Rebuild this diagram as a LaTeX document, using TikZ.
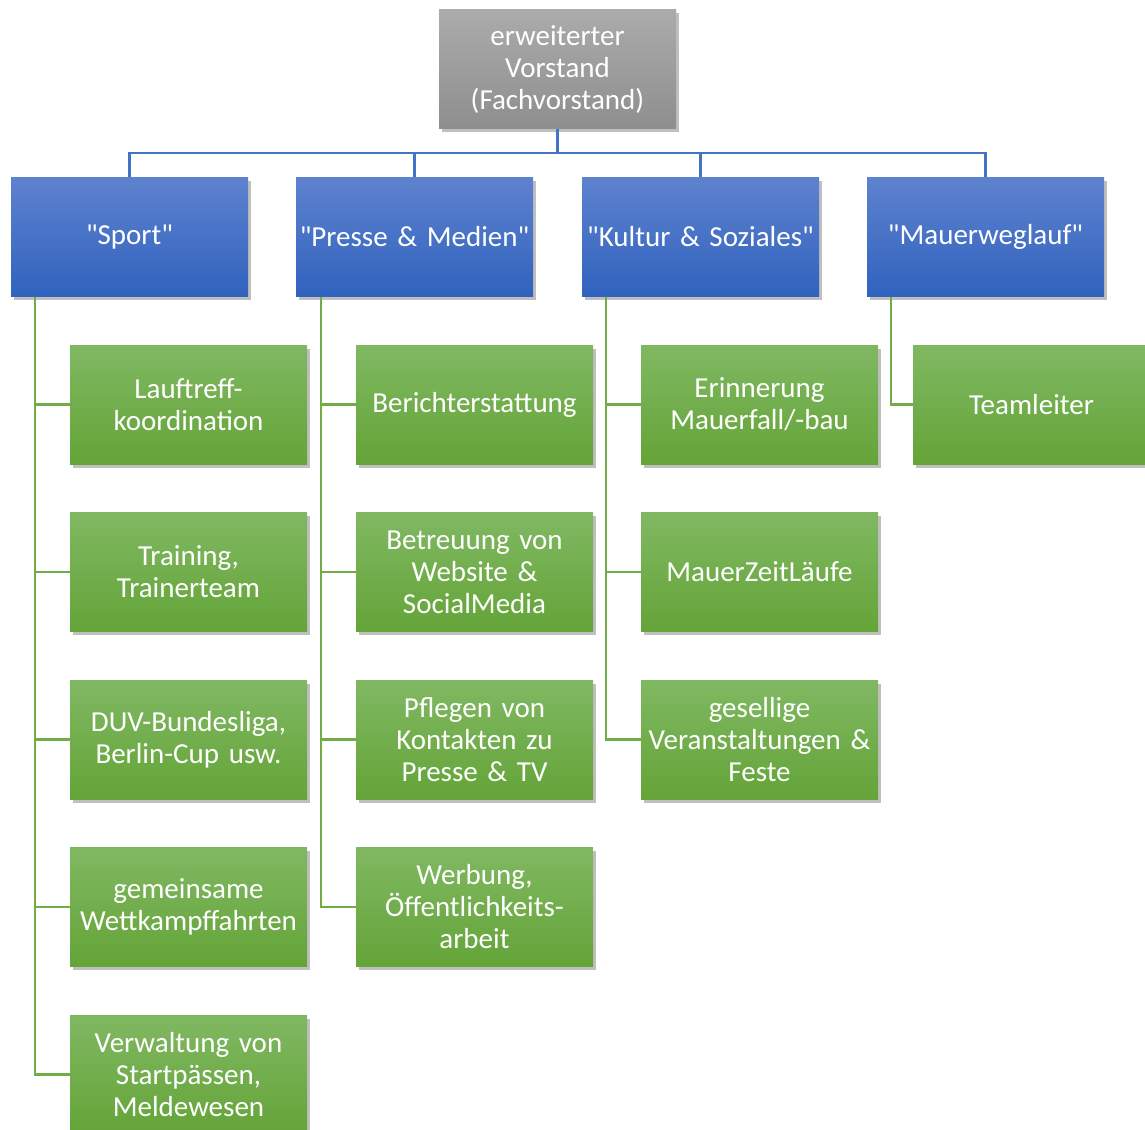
\documentclass[tikz,border=0pt]{standalone}
\usepackage{fontspec}
\setmainfont[Ligatures=TeXOff]{Carlito}
\usetikzlibrary{shadows,calc}
\definecolor{gtop}{HTML}{ABABAB}
\definecolor{gbot}{HTML}{8E8E8E}
\definecolor{btop}{HTML}{5E82CE}
\definecolor{bbot}{HTML}{3062BE}
\definecolor{ntop}{HTML}{80B862}
\definecolor{nbot}{HTML}{64A438}
\definecolor{bline}{HTML}{4472C4}
\definecolor{nline}{HTML}{70AD47}
\tikzset{
  box/.style={rectangle, minimum width=237pt, minimum height=119pt, inner sep=0pt,
    text width=236pt, align=center, text=white,
    font=\fontsize{29pt}{32pt}\selectfont,
    drop shadow={shadow xshift=2.5pt, shadow yshift=-3.5pt, opacity=0.25, fill=black}},
  headbox/.style={box, top color=gtop, bottom color=gbot},
  bluebox/.style={box, top color=btop, bottom color=bbot},
  greenbox/.style={box, top color=ntop, bottom color=nbot},
  bconn/.style={draw=bline, line width=2.5pt},
  gconn/.style={draw=nline, line width=2.5pt},
}
\begin{document}
\begin{tikzpicture}[x=1pt,y=-1pt]
\useasboundingbox (0,0) rectangle (1145,1129);
\clip (0,0) rectangle (1145,1129);
% head
\node[headbox] (top) at (557.5,69.5) {erweiterter\\Vorstand\\(Fachvorstand)};
% blue
\node[bluebox] (sport) at (129.5,237) {"Sport"};
\node[bluebox] (presse) at (414.5,237) {"Presse \& Medien"};
\node[bluebox] (kultur) at (700.5,237) {"Kultur \& Soziales"};
\node[bluebox] (mauer) at (985.5,237) {"Mauerweglauf"};
\coordinate (bus) at (557.5,153);
\foreach \b in {sport,presse,kultur,mauer}{
  \draw[bconn] (top.south) -- (bus) -| (\b.north);
}
% green: Sport
\node[greenbox] (s1) at (188.5,404.5) {Lauftreff-\\koordination};
\node[greenbox] (s2) at (188.5,572) {Training,\\Trainerteam};
\node[greenbox] (s3) at (188.5,739.5) {DUV-Bundesliga,\\Berlin-Cup usw.};
\node[greenbox] (s4) at (188.5,907) {gemeinsame\\Wettkampffahrten};
\node[greenbox] (s5) at (188.5,1074.5) {Verwaltung von\\Startpässen,\\Meldewesen};
% green: Presse
\node[greenbox] (p1) at (474.5,404.5) {Berichterstattung};
\node[greenbox] (p2) at (474.5,572) {Betreuung von\\Website \&\\SocialMedia};
\node[greenbox] (p3) at (474.5,739.5) {Pflegen von\\Kontakten zu\\Presse \& TV};
\node[greenbox] (p4) at (474.5,907) {Werbung,\\Öffentlichkeits-\\arbeit};
% green: Kultur
\node[greenbox] (k1) at (759.5,404.5) {Erinnerung\\Mauerfall/-bau};
\node[greenbox] (k2) at (759.5,572) {MauerZeitLäufe};
\node[greenbox] (k3) at (759.5,739.5) {gesellige\\Veranstaltungen \&\\Feste};
% green: Mauerweglauf
\node[greenbox] (m1) at (1031.5,404.5) {Teamleiter};
% connectors
\foreach \c in {s1,s2,s3,s4,s5}{
  \draw[gconn] ([xshift=24pt]sport.south west) |- (\c.west);
}
\foreach \c in {p1,p2,p3,p4}{
  \draw[gconn] ([xshift=25pt]presse.south west) |- (\c.west);
}
\foreach \c in {k1,k2,k3}{
  \draw[gconn] ([xshift=24pt]kultur.south west) |- (\c.west);
}
\draw[gconn] ([xshift=24pt]mauer.south west) |- (m1.west);
\end{tikzpicture}
\end{document}
